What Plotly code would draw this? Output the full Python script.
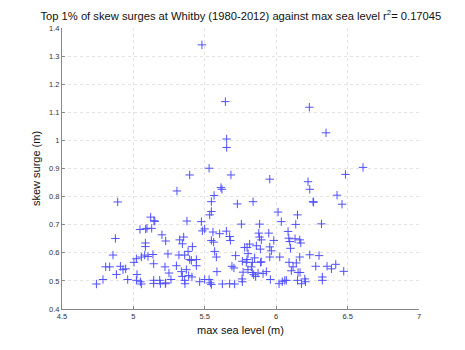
import plotly.graph_objects as go

title_text = "Top 1% of skew surges at Whitby (1980-2012) against max sea level r<sup>2</sup>= 0.17045"
x_label = "max sea level (m)"
y_label = "skew surge (m)"
x_ticks = [4.5, 5, 5.5, 6, 6.5, 7]
y_ticks = [0.4, 0.5, 0.6, 0.7, 0.8, 0.9, 1.0, 1.1, 1.2, 1.3, 1.4]

# high points
max_sea_level_high = [5.480, 5.644, 5.653, 5.653, 6.232, 6.349, 6.608, 6.485, 5.530, 5.683, 5.394, 5.955, 6.223]
skew_surge_high = [1.340, 1.138, 1.005, 0.975, 1.118, 1.027, 0.904, 0.879, 0.901, 0.877, 0.877, 0.862, 0.853]

max_sea_level_upper = [5.305, 4.890, 5.613, 5.620, 5.565, 5.546, 5.728, 5.838, 6.235, 6.258, 6.262, 6.426, 6.461,
                       5.121, 5.144, 5.150, 5.375, 5.046, 5.086, 5.095, 5.128, 5.546, 5.534, 6.013, 6.149, 5.476,
                       6.036, 5.756, 5.884, 6.137, 6.317, 5.499, 5.483]
skew_surge_upper = [0.820, 0.781, 0.832, 0.826, 0.804, 0.782, 0.774, 0.782, 0.826, 0.782, 0.780, 0.805, 0.773,
                    0.727, 0.714, 0.712, 0.713, 0.683, 0.685, 0.687, 0.687, 0.747, 0.735, 0.745, 0.735, 0.711,
                    0.711, 0.702, 0.702, 0.701, 0.703, 0.685, 0.678]

max_sea_level_mid = [5.200, 4.874, 5.226, 5.324, 5.352, 5.343, 5.084, 5.084, 5.413, 5.383, 5.557, 5.604, 5.651,
                     5.674, 5.679, 5.546, 5.562, 5.878, 5.948, 5.883, 5.896, 5.983, 6.083, 6.088, 6.095, 6.132,
                     6.165, 6.172, 5.779, 5.796, 5.814, 5.861, 5.889, 5.955, 5.966, 6.100, 5.569,
                     4.857, 5.079, 5.102, 5.137, 5.242, 5.319, 5.359, 5.056, 5.021, 5.441, 5.394,
                     5.581, 5.716, 5.763, 5.796, 5.803, 5.833, 5.849, 5.955, 6.025, 6.165, 6.235, 6.300, 5.768]
skew_surge_mid = [0.664, 0.651, 0.642, 0.646, 0.656, 0.632, 0.635, 0.622, 0.622, 0.605, 0.674, 0.668, 0.677,
                  0.658, 0.644, 0.644, 0.638, 0.670, 0.670, 0.656, 0.646, 0.644, 0.676, 0.652, 0.640, 0.650,
                  0.646, 0.635, 0.619, 0.619, 0.631, 0.625, 0.613, 0.621, 0.607, 0.616, 0.605,
                  0.592, 0.592, 0.587, 0.594, 0.596, 0.592, 0.592, 0.585, 0.579, 0.576, 0.576,
                  0.585, 0.590, 0.570, 0.576, 0.597, 0.566, 0.582, 0.585, 0.585, 0.585, 0.593, 0.590, 0.531]

max_sea_level_low = [4.741, 4.787, 4.806, 4.834, 4.881, 4.909, 4.927, 4.946, 4.960, 5.004, 5.025, 5.021, 5.049,
                     5.056, 5.142, 5.142, 5.142, 5.184, 5.189, 5.221, 5.224, 5.226, 5.249, 5.263, 5.301, 5.336,
                     5.343, 5.359, 5.361, 5.371, 5.387, 5.410, 5.406, 5.441, 5.464, 5.499, 5.530, 5.539, 5.546,
                     5.585, 5.623, 5.674, 5.690, 5.704, 5.709, 5.761, 5.763, 5.791, 5.802, 5.826, 5.833, 5.842,
                     5.856, 5.873, 5.891, 5.895, 5.908, 5.931, 5.959, 6.020, 6.043, 6.060, 6.071, 6.090, 6.106,
                     6.118, 6.141, 6.153, 6.167, 6.149, 6.177, 6.200, 6.205, 6.277, 6.323, 6.323, 6.356, 6.387,
                     6.417, 6.473]
skew_surge_low = [0.489, 0.505, 0.550, 0.550, 0.523, 0.552, 0.540, 0.543, 0.505, 0.566, 0.523, 0.502, 0.497,
                  0.489, 0.561, 0.502, 0.491, 0.502, 0.490, 0.550, 0.490, 0.493, 0.528, 0.505, 0.554, 0.533,
                  0.516, 0.502, 0.490, 0.540, 0.519, 0.514, 0.573, 0.554, 0.497, 0.505, 0.505, 0.493, 0.487,
                  0.533, 0.489, 0.490, 0.552, 0.546, 0.489, 0.507, 0.497, 0.566, 0.540, 0.550, 0.530, 0.522,
                  0.516, 0.528, 0.566, 0.568, 0.526, 0.533, 0.505, 0.490, 0.497, 0.502, 0.502, 0.566, 0.536,
                  0.550, 0.564, 0.530, 0.530, 0.502, 0.490, 0.507, 0.497, 0.552, 0.514, 0.502, 0.552, 0.543,
                  0.559, 0.534]

xs = max_sea_level_high + max_sea_level_upper + max_sea_level_mid + max_sea_level_low
ys = skew_surge_high + skew_surge_upper + skew_surge_mid + skew_surge_low

fig = go.Figure()
fig.add_trace(go.Scatter(
    x=xs, y=ys, mode="markers",
    marker=dict(symbol="cross-thin", size=6, line=dict(color="#5050ff", width=1), color="#5050ff"),
    showlegend=False,
))

font_family = "Liberation Sans, Arial, sans-serif"
fig.update_layout(
    width=465, height=350,
    margin=dict(l=62, r=46, t=27.5, b=40.5),
    paper_bgcolor="white", plot_bgcolor="white",
    font=dict(family=font_family, color="#222222"),
    title=dict(text=title_text, x=0.518, xanchor="center", y=0.955, yanchor="middle",
               font=dict(size=11.2, family=font_family, color="#111111")),
)
fig.update_xaxes(
    range=[4.5, 7], tickvals=x_ticks, ticktext=[f"{v:g}" for v in x_ticks],
    showgrid=True, gridcolor="#e3e3e3", griddash="dot", gridwidth=1,
    showline=True, linecolor="#888888", linewidth=1, mirror=False,
    ticks="inside", ticklen=3, tickcolor="#888888",
    tickfont=dict(size=7.5, color="#333333"), zeroline=False,
    title=dict(text=x_label, font=dict(size=11, color="#111111"), standoff=6),
)
fig.update_yaxes(
    range=[0.4, 1.4], tickvals=y_ticks, ticktext=[f"{v:g}" for v in y_ticks],
    showgrid=True, gridcolor="#e3e3e3", griddash="dot", gridwidth=1,
    showline=True, linecolor="#888888", linewidth=1, mirror=False,
    ticks="inside", ticklen=3, tickcolor="#888888",
    tickfont=dict(size=7.5, color="#333333"), zeroline=False,
    title=dict(text=y_label, font=dict(size=11, color="#111111"), standoff=6),
)

fig.write_html("out.html")
